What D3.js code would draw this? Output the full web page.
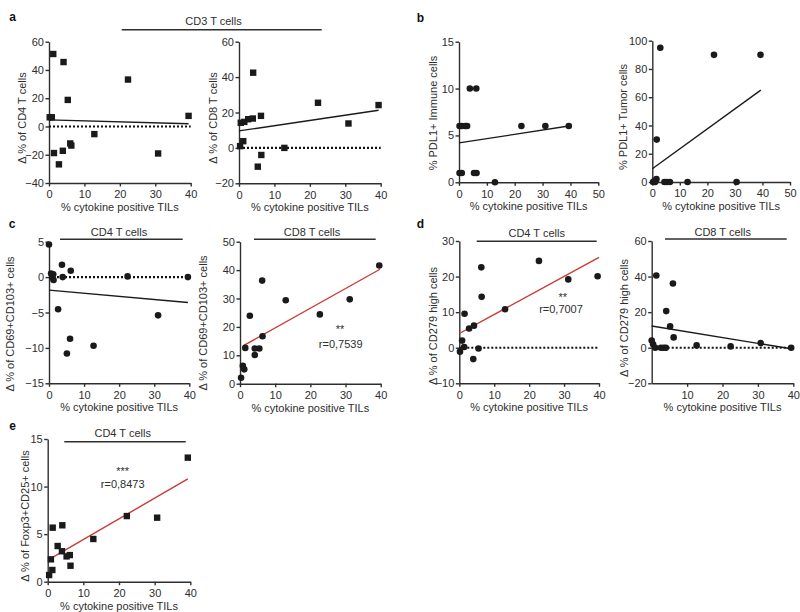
<!DOCTYPE html>
<html><head><meta charset="utf-8">
<script src="https://cdn.jsdelivr.net/npm/d3@7"></script>
<style>
body{margin:0;background:#fff;}
text{font-family:"Liberation Sans",Arial,Helvetica,sans-serif;}
</style></head>
<body><svg id="c" width="800" height="612"></svg>
<script>
// ---------- data ----------
const xLabel = "% cytokine positive TILs";
const ticks40 = [0,10,20,30,40];
const ticks50 = [0,10,20,30,40,50];
const ticks40no0 = [10,20,30,40];

const a1X = [0.2,0.8,1.2,4.1,5.3,22.3,39.4,12.8,6.0,6.3,3.9,1.4,2.8,30.8];
const a1Y = [6.5,6.5,51.3,45.6,18.8,33.2,7.5,-5.4,-12.0,-13.5,-17.2,-18.8,-26.8,-19.1];
const a1Fit = [[0,4.7],[39.4,1.9]];
const a1YTicks = [-40,-20,0,20,40,60];

const a2X = [0.3,0.5,1.5,1.2,2.6,3.9,4.0,6.2,6.3,5.3,12.8,22.3,30.9,39.4];
const a2Y = [1.0,14.2,14.7,3.8,16.2,16.6,42.5,18.1,-4.0,-10.6,0,25.5,13.8,24.2];
const a2Fit = [[0,9.6],[39.4,21.3]];
const a2YTicks = [-20,0,20,40,60];

const b1X = [0.2,1.0,0.2,1.0,2.3,2.9,3.9,6.2,5.4,6.3,12.9,22.4,31.0,39.4];
const b1Y = [1,1,6,6,6,6,10,10,1,1,0,6,6,6];
const b1Fit = [[0,4.2],[39.4,6.0]];
const b1YTicks = [0,5,10,15];

const b2X = [2.9,22.4,39.3,1.6,1.5,0.3,0.6,1.0,4.4,5.3,6.4,12.8,30.6];
const b2Y = [95,90,90,30,2,0,0.5,0,0,0,0,0,0];
const b2Fit = [[0,9.4],[39.4,65]];
const b2YTicks = [0,20,40,60,80,100];

const c1X = [0.0,0.6,1.2,1.0,1.3,3.7,3.9,6.2,2.6,6.0,5.1,12.7,22.4,31.1,39.6];
const c1Y = [4.6,0.5,0.4,-0.1,-0.4,1.75,0,0.9,-4.55,-8.7,-10.8,-9.7,0.1,-5.4,0];
const c1Fit = [[0,-1.84],[39.6,-3.58]];
const c1YTicks = [-15,-10,-5,0,5];

const c2X = [0.3,0.8,1.2,1.5,2.8,4.2,4.2,5.5,6.4,6.3,13.0,22.7,31.2,39.6];
const c2Y = [2.1,6.3,5.05,12.6,23.9,12.4,10.1,12.4,16.7,36.3,29.4,24.4,29.7,41.6];
const c2Fit = [[1.0,13.4],[39.8,40.3]];
const c2YTicks = [0,10,20,30,40,50];

const d1X = [0.2,0.8,1.4,1.5,2.8,4.2,4.0,5.5,6.3,6.4,13.1,22.8,31.2,39.6];
const d1Y = [-1.1,2.0,0.2,9.55,5.4,6.2,-3.2,-0.2,22.6,14.3,10.8,24.4,19.2,20.1];
const d1Fit = [[0,4.0],[40,25.4]];
const d1YTicks = [-10,0,10,20,30];

const d2X = [0.0,0.4,1.3,1.0,2.6,3.4,4.0,4.1,5.2,6.0,6.2,12.7,22.3,30.8,39.4];
const d2Y = [4.1,1.9,40.6,0,0,0,0,20.6,12,36.1,5.8,1.3,0.75,2.6,0];
const d2Fit = [[0,12.2],[39.4,-0.6]];
const d2YTicks = [-20,0,20,40,60];

const eX = [0.4,1.3,0.9,1.4,2.8,4.1,4.0,5.3,6.2,6.4,12.8,22.2,30.7,39.3];
const eY = [0.7,1.23,2.35,5.68,3.75,5.93,3.2,2.66,2.8,1.68,4.49,6.9,6.73,13.04];
const eFit = [[0.4,2.35],[39.3,10.8]];
const eYTicks = [0,5,10,15];

// ---------- drawing ----------
const svg = d3.select("#c");
const INK = "#1a1a1a", AX = "#2e2e2e";

const panels = [
 {x:a1X,y:a1Y,fit:a1Fit,fitColor:INK,xd:[0,40],xt:ticks40,yd:[-40,60],yt:a1YTicks,
  px:[49,190.7],py:[183,41.7],shape:"sq",zero:true,yl:"Δ % of CD4 T cells",ylc:[22.5,118]},
 {x:a2X,y:a2Y,fit:a2Fit,fitColor:INK,xd:[0,40],xt:ticks40,yd:[-20,60],yt:a2YTicks,
  px:[239,380.7],py:[183.3,41.7],shape:"sq",zero:true,yl:"Δ % of CD8 T cells",ylc:[213,118]},
 {x:b1X,y:b1Y,fit:b1Fit,fitColor:INK,xd:[0,50],xt:ticks50,yd:[0,15],yt:b1YTicks,
  px:[459,598.3],py:[182.3,41.7],shape:"ci",zero:false,yl:"% PDL1+ Immune cells",ylc:[433,113]},
 {x:b2X,y:b2Y,fit:b2Fit,fitColor:INK,xd:[0,50],xt:ticks50,yd:[0,100],yt:b2YTicks,
  px:[652.3,790],py:[182,40.7],shape:"ci",zero:false,yl:"% PDL1+ Tumor cells",ylc:[623,117]},
 {x:c1X,y:c1Y,fit:c1Fit,fitColor:INK,xd:[0,40],xt:ticks40,yd:[-15,5],yt:c1YTicks,
  px:[49,189.3],py:[383.3,241.7],shape:"ci",zero:true,yl:"Δ % of CD69+CD103+ cells",ylc:[10.5,324],
  title:"CD4 T cells",tc:[119,231.7],tl:[60,182.7,239.3]},
 {x:c2X,y:c2Y,fit:c2Fit,fitColor:"#cc3a35",xd:[0,40],xt:ticks40,yd:[0,50],yt:c2YTicks,
  px:[240,380.7],py:[383.7,241.7],shape:"ci",zero:false,yl:"Δ % of CD69+CD103+ cells",ylc:[203,323],
  title:"CD8 T cells",tc:[312,232],tl:[254,375.7,239.3],stars:"**",r:"r=0,7539",sc:[340,326.7],rc:[340.7,344]},
 {x:d1X,y:d1Y,fit:d1Fit,fitColor:"#cc3a35",xd:[0,40],xt:ticks40,yd:[-10,30],yt:d1YTicks,
  px:[459.3,599],py:[383.3,241],shape:"ci",zero:true,yl:"Δ % of CD279 high cells",ylc:[433,326],
  title:"CD4 T cells",tc:[536.7,233],tl:[476.7,596.7,241.3],stars:"**",r:"r=0,7007",sc:[562.7,294.3],rc:[561,309.3]},
 {x:d2X,y:d2Y,fit:d2Fit,fitColor:INK,xd:[0,40],xt:ticks40no0,yd:[-20,60],yt:d2YTicks,
  px:[651.7,793.3],py:[383.3,241],shape:"ci",zero:true,yl:"Δ % of CD279 high cells",ylc:[624,318],
  title:"CD8 T cells",tc:[722.7,231.7],tl:[665,786.7,239]},
 {x:eX,y:eY,fit:eFit,fitColor:"#cc3a35",xd:[0,40],xt:ticks40,yd:[0,15],yt:eYTicks,
  px:[47.7,190.3],py:[581.7,439],shape:"sq",zero:false,yl:"Δ % of Foxp3+CD25+ cells",ylc:[25,516],
  title:"CD4 T cells",tc:[122.7,433.3],tl:[64.3,185.7,441.7],stars:"***",r:"r=0,8473",sc:[122.7,469],rc:[122.7,484.3]}
];

panels.forEach(p=>{
  const xs = d3.scaleLinear().domain(p.xd).range(p.px);
  const ys = d3.scaleLinear().domain(p.yd).range(p.py);
  const g = svg.append("g");
  const xa = g.append("g").attr("transform",`translate(0,${p.py[0]})`)
    .call(d3.axisBottom(xs).tickValues(p.xt).tickSize(3.5).tickSizeOuter(0).tickPadding(4));
  const ya = g.append("g").attr("transform",`translate(${p.px[0]},0)`)
    .call(d3.axisLeft(ys).tickValues(p.yt).tickSize(3.5).tickSizeOuter(0).tickPadding(1.5));
  [xa,ya].forEach(a=>{
    a.select(".domain").attr("stroke",AX).attr("stroke-width",1.4);
    a.selectAll(".tick line").attr("stroke",AX).attr("stroke-width",1.4);
    a.selectAll(".tick text").attr("fill",AX).style("font-size","11px")
      .style("font-family",'"Liberation Sans",Arial,sans-serif');
  });
  g.append("text").attr("x",(p.px[0]+p.px[1])/2).attr("y",p.py[0]+28)
    .attr("text-anchor","middle").attr("fill",AX).style("font-size","11px").text(xLabel);
  g.append("text").attr("transform",`translate(${p.ylc[0]},${p.ylc[1]}) rotate(-90)`)
    .attr("text-anchor","middle").attr("dy","0.35em").attr("fill",AX).style("font-size","11px").text(p.yl);
  if(p.zero){
    g.append("line").attr("x1",xs(0)).attr("x2",xs(40)).attr("y1",ys(0)).attr("y2",ys(0))
      .attr("stroke","#111").attr("stroke-width",2.2).attr("stroke-dasharray","2,2");
  }
  g.append("line").attr("x1",xs(p.fit[0][0])).attr("y1",ys(p.fit[0][1]))
    .attr("x2",xs(p.fit[1][0])).attr("y2",ys(p.fit[1][1]))
    .attr("stroke",p.fitColor).attr("stroke-width",1.4);
  const pts = p.x.map((v,i)=>[v,p.y[i]]);
  if(p.shape==="sq"){
    g.selectAll("rect.pt").data(pts).enter().append("rect")
      .attr("x",d=>xs(d[0])-3.2).attr("y",d=>ys(d[1])-3.2).attr("width",6.4).attr("height",6.4).attr("fill",INK);
  } else {
    g.selectAll("circle.pt").data(pts).enter().append("circle")
      .attr("cx",d=>xs(d[0])).attr("cy",d=>ys(d[1])).attr("r",3.3).attr("fill",INK);
  }
  if(p.title){
    g.append("text").attr("x",p.tc[0]).attr("y",p.tc[1]).attr("dy","0.35em").attr("text-anchor","middle")
      .attr("fill",AX).style("font-size","11px").text(p.title);
    g.append("line").attr("x1",p.tl[0]).attr("x2",p.tl[1]).attr("y1",p.tl[2]).attr("y2",p.tl[2])
      .attr("stroke",AX).attr("stroke-width",1.4);
  }
  if(p.stars){
    g.append("text").attr("x",p.sc[0]).attr("y",p.sc[1]+6.3).attr("text-anchor","middle")
      .attr("fill",AX).style("font-size","11px").text(p.stars);
    g.append("text").attr("x",p.rc[0]).attr("y",p.rc[1]).attr("dy","0.35em").attr("text-anchor","middle")
      .attr("fill",AX).style("font-size","11px").text(p.r);
  }
});

svg.append("text").attr("x",213.5).attr("y",21).attr("dy","0.35em").attr("text-anchor","middle")
  .attr("fill",AX).style("font-size","11px").text("CD3 T cells");
svg.append("line").attr("x1",121.7).attr("x2",321.7).attr("y1",29.7).attr("y2",29.7)
  .attr("stroke",AX).attr("stroke-width",1.4);

const letters = ["a","b","c","d","e"];
const letterPos = [[9.3,20.7],[416.7,21.7],[8.7,227.5],[416.7,228.3],[9.3,430]];
letters.forEach((l,i)=>{
  svg.append("text").attr("x",letterPos[i][0]).attr("y",letterPos[i][1])
    .attr("fill","#111").style("font-size","12px").style("font-weight","bold").text(l);
});
</script></body></html>
